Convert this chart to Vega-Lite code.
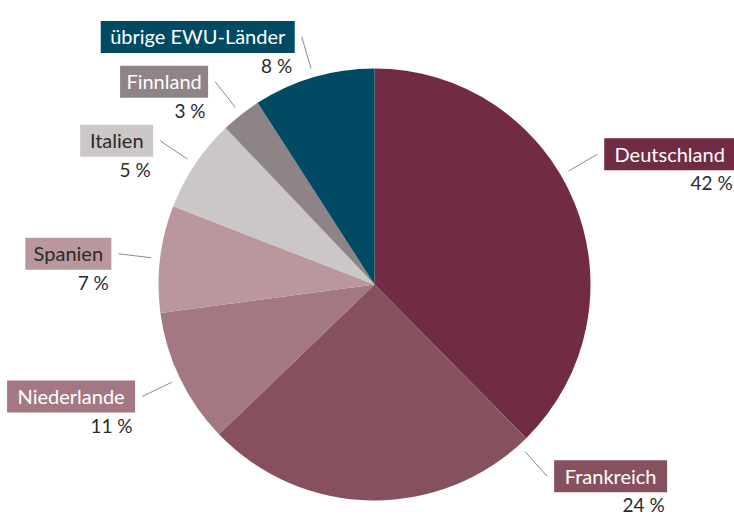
{
  "$schema": "https://vega.github.io/schema/vega-lite/v6.json",
  "width": 719,
  "height": 463,
  "autosize": "none",
  "padding": {"left": 15, "top": 53, "right": 0, "bottom": 0},
  "background": "white",
  "config": {"view": {"stroke": null}, "font": "Lato"},
  "data": {
    "values": [
      {"ord": 1, "land": "Deutschland", "wert": 37.6, "anteil": 42},
      {"ord": 2, "land": "Frankreich", "wert": 25.2, "anteil": 24},
      {"ord": 3, "land": "Niederlande", "wert": 10.1, "anteil": 11},
      {"ord": 4, "land": "Spanien", "wert": 8.0, "anteil": 7},
      {"ord": 5, "land": "Italien", "wert": 7.0, "anteil": 5},
      {"ord": 6, "land": "Finnland", "wert": 3.0, "anteil": 3},
      {"ord": 7, "land": "übrige EWU-Länder", "wert": 9.1, "anteil": 8}
    ]
  },
  "transform": [
    {"window": [{"op": "sum", "field": "wert", "as": "cum"}], "sort": [{"field": "ord"}], "frame": [null, 0]},
    {"joinaggregate": [{"op": "sum", "field": "wert", "as": "total"}]},
    {"calculate": "360 * (datum.cum - datum.wert / 2) / datum.total", "as": "mid"},
    {"calculate": "datum.mid > 150 && datum.mid < 210 ? 138 : (datum.mid < 90 ? datum.mid - 8 : datum.mid)", "as": "a"},
    {"calculate": "datum.a * PI / 180", "as": "rad"},
    {"calculate": "225 * sin(datum.rad)", "as": "sx"},
    {"calculate": "225 * cos(datum.rad)", "as": "sy"},
    {"calculate": "258 * sin(datum.rad)", "as": "ex"},
    {"calculate": "258 * cos(datum.rad)", "as": "ey"},
    {"calculate": "sin(datum.rad) >= 0 ? 1 : -1", "as": "side"},
    {"calculate": "({'Deutschland': 131, 'Frankreich': 113, 'Niederlande': 128, 'Spanien': 86, 'Italien': 73, 'Finnland': 88, 'übrige EWU-Länder': 194})[datum.land]", "as": "bw"},
    {"calculate": "datum.side > 0 ? datum.ex + 7 : datum.ex - 7 - datum.bw", "as": "bx1"},
    {"calculate": "datum.bx1 + datum.bw", "as": "bx2"},
    {"calculate": "datum.bx1 + datum.bw / 2", "as": "tx"},
    {"calculate": "datum.bx2 - 2.5", "as": "px"},
    {"calculate": "datum.ey - 16", "as": "by1"},
    {"calculate": "datum.ey + 16", "as": "by2"},
    {"calculate": "datum.anteil + ' %'", "as": "pct"}
  ],
  "layer": [
    {
      "mark": {"type": "arc", "outerRadius": 216},
      "encoding": {
        "theta": {"field": "wert", "type": "quantitative", "stack": true},
        "order": {"field": "ord", "type": "quantitative"},
        "color": {
          "field": "land", "type": "nominal", "legend": null,
          "scale": {
            "domain": ["Deutschland", "Frankreich", "Niederlande", "Spanien", "Italien", "Finnland", "übrige EWU-Länder"],
            "range": ["#722b45", "#87505f", "#a47883", "#b9979d", "#cbc6c7", "#8e8386", "#004b63"]
          }
        }
      }
    },
    {
      "mark": {"type": "rule", "color": "#8c8c8c", "strokeWidth": 1},
      "encoding": {
        "x": {"field": "sx", "type": "quantitative", "axis": null, "scale": {"domain": [-359.5, 359.5], "nice": false, "zero": false}},
        "y": {"field": "sy", "type": "quantitative", "axis": null, "scale": {"domain": [-231.5, 231.5], "nice": false, "zero": false}},
        "x2": {"field": "ex"},
        "y2": {"field": "ey"}
      }
    },
    {
      "mark": {"type": "rect"},
      "encoding": {
        "x": {"field": "bx1", "type": "quantitative"},
        "x2": {"field": "bx2"},
        "y": {"field": "by1", "type": "quantitative"},
        "y2": {"field": "by2"},
        "color": {"field": "land", "type": "nominal", "legend": null}
      }
    },
    {
      "mark": {"type": "text", "align": "center", "baseline": "alphabetic", "dy": 7.5, "fontSize": 20},
      "encoding": {
        "x": {"field": "tx", "type": "quantitative"},
        "y": {"field": "ey", "type": "quantitative"},
        "text": {"field": "land"},
        "color": {
          "condition": {"test": "datum.land === 'Spanien' || datum.land === 'Italien'", "value": "#2b2b2b"},
          "value": "#ffffff"
        }
      }
    },
    {
      "mark": {"type": "text", "align": "right", "baseline": "alphabetic", "dy": 36, "fontSize": 19, "color": "#2b2b2b"},
      "encoding": {
        "x": {"field": "px", "type": "quantitative"},
        "y": {"field": "ey", "type": "quantitative"},
        "text": {"field": "pct"}
      }
    }
  ]
}
